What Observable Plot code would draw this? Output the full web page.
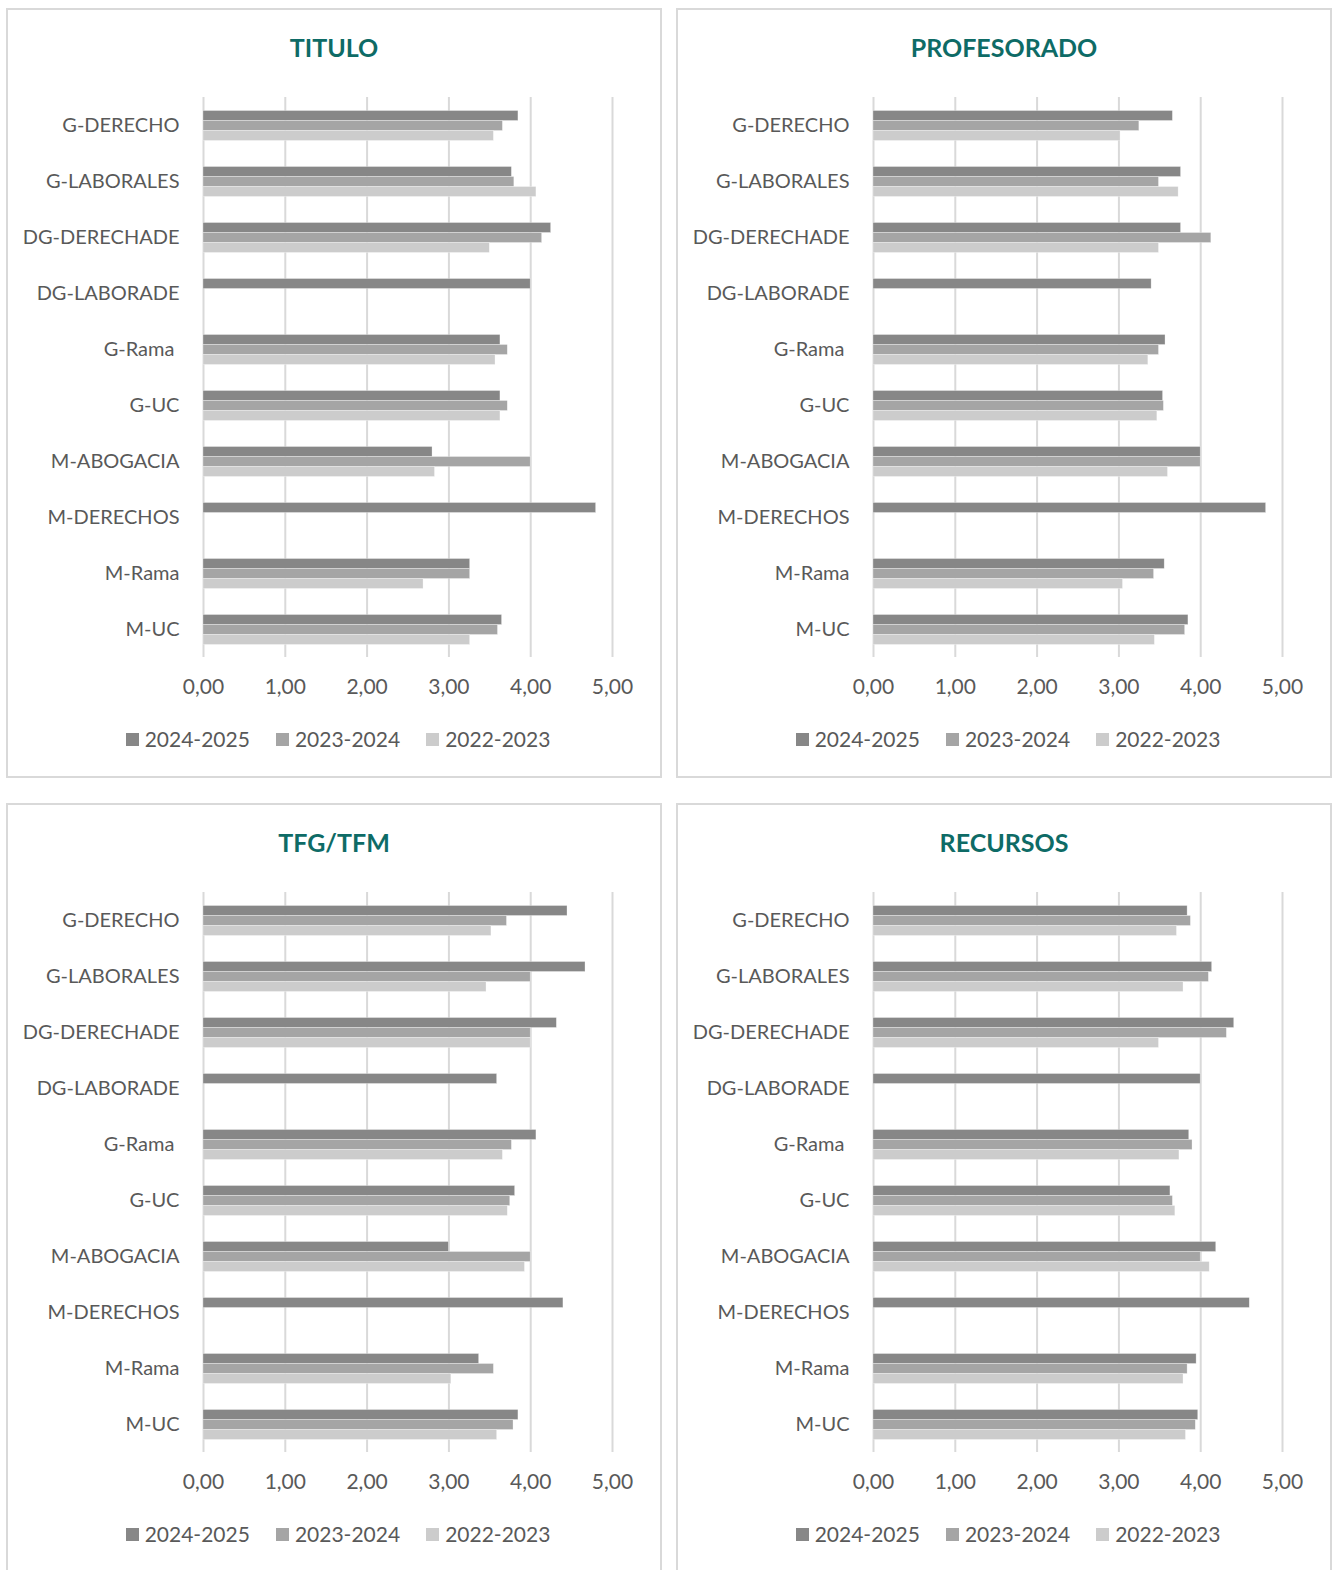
<!DOCTYPE html>
<html>
<head>
<meta charset="utf-8">
<script src="https://cdn.jsdelivr.net/npm/d3@7"></script>
<script src="https://cdn.jsdelivr.net/npm/@observablehq/plot@0.6"></script>
<style>
  html, body { margin: 0; padding: 0; background: #fff; }
  body { width: 1335px; height: 1570px; position: relative; overflow: hidden; font-family: Lato, "Open Sans", sans-serif; }
  .panel { position: absolute; width: 656px; height: 770px; border: 2px solid #d9d9d9; box-sizing: border-box; background: #fff; }
  .title { position: absolute; left: 0; top: 22px; width: 100%; height: 30px; line-height: 30px; text-align: center; color: #0E6B66; font-weight: 700; font-size: 25px; }
  .chart { position: absolute; left: 0; top: 0; }
  .legend { position: absolute; left: 4px; top: 714px; width: 100%; height: 30px; line-height: 30px; display: flex; justify-content: center; color: #595959; font-size: 21px; }
  .item { display: flex; align-items: center; margin: 0 13px; }
  .sw { display: inline-block; width: 13px; height: 13px; margin-right: 6px; }
  svg text { white-space: pre; }
</style>
</head>
<body>
<script>
const categories = ["G-DERECHO", "G-LABORALES", "DG-DERECHADE", "DG-LABORADE", "G-Rama ", "G-UC", "M-ABOGACIA", "M-DERECHOS", "M-Rama", "M-UC"];
const series = ["2024-2025", "2023-2024", "2022-2023"];
const colors = ["#878787", "#a5a5a5", "#cccccc"];
const xTicks = [0, 1, 2, 3, 4, 5];

const titulo2425 = [3.85, 3.77, 4.25, 4.00, 3.63, 3.63, 2.80, 4.80, 3.26, 3.65];
const titulo2324 = [3.66, 3.80, 4.14, null, 3.72, 3.72, 4.00, null, 3.26, 3.60];
const titulo2223 = [3.55, 4.07, 3.50, null, 3.57, 3.63, 2.83, null, 2.69, 3.26];

const prof2425 = [3.66, 3.76, 3.76, 3.40, 3.57, 3.54, 4.00, 4.80, 3.56, 3.85];
const prof2324 = [3.25, 3.49, 4.13, null, 3.49, 3.55, 4.00, null, 3.43, 3.81];
const prof2223 = [3.02, 3.73, 3.49, null, 3.36, 3.47, 3.60, null, 3.05, 3.44];

const tfg2425 = [4.45, 4.67, 4.32, 3.59, 4.07, 3.81, 3.00, 4.40, 3.37, 3.85];
const tfg2324 = [3.71, 4.00, 4.00, null, 3.77, 3.75, 4.00, null, 3.55, 3.79];
const tfg2223 = [3.52, 3.46, 4.00, null, 3.66, 3.72, 3.93, null, 3.03, 3.59];

const rec2425 = [3.84, 4.14, 4.41, 4.00, 3.86, 3.63, 4.19, 4.60, 3.95, 3.97];
const rec2324 = [3.88, 4.10, 4.32, null, 3.90, 3.66, 4.00, null, 3.84, 3.94];
const rec2223 = [3.71, 3.79, 3.49, null, 3.74, 3.69, 4.11, null, 3.79, 3.82];

const panels = [
  { title: "TITULO", left: 6, top: 8, values: [titulo2425, titulo2324, titulo2223] },
  { title: "PROFESORADO", left: 676, top: 8, values: [prof2425, prof2324, prof2223] },
  { title: "TFG/TFM", left: 6, top: 803, values: [tfg2425, tfg2324, tfg2223] },
  { title: "RECURSOS", left: 676, top: 803, values: [rec2425, rec2324, rec2223] }
];

const fmt = d => d.toFixed(2).replace(".", ",");

for (const p of panels) {
  const rows = [];
  categories.forEach((c, i) => {
    series.forEach((s, j) => {
      const v = p.values[j][i];
      if (v != null) rows.push({ category: c, series: s, value: v });
    });
  });

  const panel = document.createElement("div");
  panel.className = "panel";
  panel.style.left = p.left + "px";
  panel.style.top = p.top + "px";
  if (p.top > 500) panel.style.height = "800px";

  const chart = Plot.plot({
    width: 652,
    height: 700,
    marginTop: 84.5,
    marginBottom: 50,
    marginLeft: 195,
    marginRight: 48,
    style: { fontFamily: "Lato, 'Open Sans', sans-serif", fontSize: "21px", color: "#595959", background: "transparent", overflow: "visible" },
    x: { domain: [0, 5], ticks: xTicks, tickFormat: fmt, tickSize: 0, tickPadding: 22, label: null },
    fy: { domain: categories, padding: 0, label: null, axis: "left", tickSize: 0, tickPadding: 24 },
    y: { domain: series, axis: null, paddingInner: 0, paddingOuter: 1.1 },
    color: { domain: series, range: colors },
    marks: [
      Plot.gridX(xTicks, { stroke: "#d9d9d9", strokeOpacity: 1, strokeWidth: 2 }),
      Plot.barX(rows, { x: "value", y: "series", fy: "category", fill: "series", stroke: "#ffffff", strokeWidth: 0.6, strokeOpacity: 0.5 })
    ]
  });
  chart.classList.add("chart");
  chart.querySelectorAll("g[aria-label='fy-axis tick label'] text, g[aria-label='fy-axis tick label']").forEach(el => el.setAttribute("font-size", "20"));

  const title = document.createElement("div");
  title.className = "title";
  title.textContent = p.title;

  const legend = document.createElement("div");
  legend.className = "legend";
  series.forEach((s, j) => {
    const item = document.createElement("span");
    item.className = "item";
    const sw = document.createElement("span");
    sw.className = "sw";
    sw.style.background = colors[j];
    const t = document.createElement("span");
    t.textContent = s;
    item.appendChild(sw);
    item.appendChild(t);
    legend.appendChild(item);
  });

  panel.appendChild(chart);
  panel.appendChild(title);
  panel.appendChild(legend);
  document.body.appendChild(panel);
}
</script>
</body>
</html>
